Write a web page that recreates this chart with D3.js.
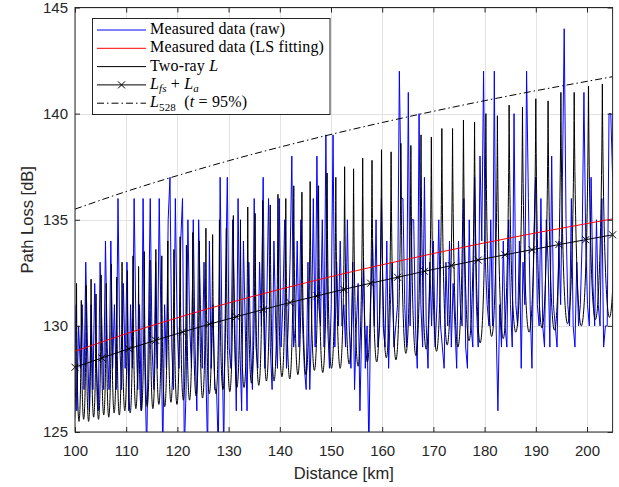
<!DOCTYPE html>
<html lang="en">
<head>
<meta charset="UTF-8">
<title>Path loss vs distance</title>
<script src="https://cdn.jsdelivr.net/npm/d3@7/dist/d3.min.js"></script>
<style>
    body { margin: 0; background: #fff; }
    .tick text { font-family: "Liberation Sans", Arial, sans-serif; font-size: 15px; fill: #262626; }
</style>
</head>
<body>
<script>
    // ---- data ----
    const xTicks = [100, 110, 120, 130, 140, 150, 160, 170, 180, 190, 200];
    const yTicks = [125, 130, 135, 140, 145];

    // measured samples (dB), one every rawStepKm from rawStartKm
    const rawStartKm = 100;
    const rawStepKm = 0.35;
    const rawLoss = [
        131,126,130,128,131,127,133,129,126,131,127,132,128,126,133,130,127,134,129,127,
        134,128,131,127,136,129,127,132,128,133,126,131,128,136,130,127,131,126,136,128,
        124,130,136,129,127,133,128,136,130,124,131,128,135,137,129,127,136,130,128,134,
        136,124,127,135,130,128,135,129,126,135,131,128,133,128,124,134,128,131,127,127,
        124,137,130,124,132,137,129,128,135,131,126,136,129,126,134,130,126,133,129,127,
        136,129,128,133,130,137,128,131,136,129,127,134,130,128,136,129,131,135,128,130,
        133,138,129,130,134,129,135,130,128,127,133,127,130,136,129,138,131,130,135,129,
        139,130,128,131,139,129,133,130,134,130,131,129,135,130,128,133,127,130,132,126,
        130,133,128,130,124,131,134,130,135,129,130,136,130,129,134,128,131,133,129,130,
        131,142,136,136,131,129,141,130,135,135,130,128,140,131,129,137,130,128,133,130,
        134,129,131,135,130,129,128,133,130,134,129,132,130,128,134,131,130,136,129,128,
        135,130,129,137,131,129,138,134,142,133,131,130,135,130,142,130,126,131,129,134,
        130,129,135,131,129,140,131,130,134,128,133,131,142,136,131,128,134,137,131,130,
        136,130,129,135,133,129,138,131,130,129,134,131,137,144,135,131,130,136,130,129,
        133,130,131,134,141,134,131,130,137,132,130,135,131,130,136,129,130,130,140,140,
        137
    ];

    // LS fit of the measurement
    const fitKm = [100, 110, 120, 130, 140, 150, 160, 170, 180, 190, 200, 205];
    const fitLoss = [128.80, 129.63, 130.38, 131.08, 131.72, 132.32, 132.88, 133.41, 133.91, 134.38, 134.82, 135.04];

    // two-ray model: fade peaks and the troughs between them
    const peakKm = [
        99.4, 100.3, 101.23, 102.18, 103.14, 104.11, 105.10, 106.10, 107.12, 108.15, 109.19,
        110.25, 111.33, 112.42, 113.53, 114.65, 115.79, 116.95, 118.13, 119.32, 120.53,
        121.76, 123.01, 124.28, 125.57, 126.88, 128.21, 129.56, 130.93, 132.32, 133.74,
        135.18, 136.64, 138.13, 139.64, 141.17, 142.73, 144.32, 145.93, 147.57, 149.24,
        150.94, 152.66, 154.41, 156.19, 158.01, 159.86, 161.74, 163.65, 165.60, 167.58,
        169.60, 171.65, 173.74, 175.87, 178.04, 180.25, 182.50, 184.79,
        187.4, 190.0, 192.4, 194.9, 197.5, 200.3, 203.0, 205.8
    ];
    const peakLoss = [
        131.8, 132.0, 131.2, 131.9, 132.2, 131.5, 132.4, 132.0, 132.9, 132.3, 133.0,
        132.6, 133.3, 132.8, 133.5, 133.1, 133.6, 133.3, 134.0, 133.6, 134.2,
        133.8, 134.4, 134.0, 134.6, 134.3, 135.0, 134.6, 135.2, 135.0, 135.6,
        135.3, 135.9, 135.7, 136.2, 136.0, 136.6, 136.3, 136.8, 136.6, 137.2,
        137.0, 137.5, 137.4, 137.9, 137.8, 138.3, 138.2, 138.6, 138.5, 139.0,
        138.9, 139.3, 139.3, 139.7, 139.6, 140.0, 139.9, 140.4,
        140.3, 140.7, 140.6, 141.0, 141.0, 141.3, 141.4, 141.7
    ];
    const troughLoss = [
        125.5, 125.5, 125.6, 125.5, 125.7, 125.6, 125.8, 125.7, 125.9, 125.8,
        126.0, 125.9, 126.1, 126.0, 126.2, 126.1, 126.3, 126.2, 126.4, 126.3,
        126.5, 126.5, 126.7, 126.6, 126.8, 126.8, 127.0, 126.9, 127.1, 127.1,
        127.3, 127.2, 127.4, 127.4, 127.6, 127.5, 127.7, 127.7, 127.9, 127.8,
        128.0, 128.0, 128.2, 128.1, 128.3, 128.3, 128.5, 128.4, 128.7, 128.6,
        128.9, 128.8, 129.1, 129.0, 129.3, 129.2, 129.5, 129.4, 129.7, 129.7,
        129.9, 129.8, 130.1, 130.0, 130.3, 130.4
    ];

    // free-space + atmospheric loss (with markers)
    const freeKm = [100, 105.25, 110.5, 115.75, 121, 126.25, 131.5, 136.75, 142, 147.25, 152.5,
        157.75, 163, 168.25, 173.5, 178.75, 184, 189.25, 194.5, 199.75, 205];
    const freeLoss = [128.05, 128.49, 128.92, 129.32, 129.71, 130.08, 130.43, 130.77, 131.10, 131.41, 131.72,
        132.01, 132.29, 132.57, 132.84, 133.10, 133.35, 133.59, 133.83, 134.06, 134.29];

    // L528 at t = 95%
    const l528Km = [100, 110, 120, 130, 140, 150, 160, 170, 180, 190, 200, 205];
    const l528Loss = [135.50, 136.33, 137.08, 137.78, 138.42, 139.02, 139.58, 140.11, 140.61, 141.08, 141.52, 141.74];

    // ---- drawing ----
    let width = 619, height = 487;
    let margin = {top: 7.5, right: 6.4, bottom: 55, left: 75};
    let iw = width - margin.left - margin.right;
    let ih = height - margin.top - margin.bottom;
    let axisColor = '#262626';

    let svg = d3.select('body').append('svg')
        .attr('width', width)
        .attr('height', height);

    let x = d3.scaleLinear().domain([100, 205]).range([margin.left, width - margin.right]);
    let y = d3.scaleLinear().domain([125, 145]).range([height - margin.bottom, margin.top]);

    svg.append('defs').append('clipPath').attr('id', 'plot')
        .append('rect')
        .attr('x', margin.left).attr('y', margin.top)
        .attr('width', iw).attr('height', ih);

    // grid
    let grid = svg.append('g').attr('stroke', '#e3e3e3').attr('stroke-width', 1);
    grid.selectAll('.gx').data(xTicks).join('line')
        .attr('x1', d => Math.round(x(d)) + 0.5).attr('x2', d => Math.round(x(d)) + 0.5)
        .attr('y1', margin.top).attr('y2', height - margin.bottom);
    grid.selectAll('.gy').data(yTicks).join('line')
        .attr('y1', d => Math.round(y(d)) + 0.5).attr('y2', d => Math.round(y(d)) + 0.5)
        .attr('x1', margin.left).attr('x2', width - margin.right);

    let plot = svg.append('g').attr('clip-path', 'url(#plot)');

    // measured raw
    let rawKm = rawLoss.map((v, i) => rawStartKm + i * rawStepKm);
    let rawLine = d3.line().x((d, i) => x(rawKm[i])).y(d => y(d));
    plot.append('path')
        .attr('d', rawLine(rawLoss))
        .attr('fill', 'none').attr('stroke', '#0000ff').attr('stroke-width', 1);

    // two-ray: sharp fade peaks, rounded troughs
    let tr = d3.path();
    tr.moveTo(x(peakKm[0]), y(peakLoss[0]));
    for (let i = 0; i < peakKm.length - 1; i++) {
        let x0 = x(peakKm[i]), y0 = y(peakLoss[i]);
        let x3 = x(peakKm[i + 1]), y3 = y(peakLoss[i + 1]);
        let yc = (8 * y(troughLoss[i]) - y0 - y3) / 6;
        let dx = x3 - x0;
        tr.bezierCurveTo(x0 + 0.12 * dx, yc, x3 - 0.12 * dx, yc, x3, y3);
    }
    plot.append('path')
        .attr('d', tr.toString())
        .attr('fill', 'none').attr('stroke', '#000').attr('stroke-width', 1);

    let line = d3.line().curve(d3.curveMonotoneX);

    // LS fit
    plot.append('path')
        .attr('d', line(fitKm.map((k, i) => [x(k), y(fitLoss[i])])))
        .attr('fill', 'none').attr('stroke', '#ff0000').attr('stroke-width', 1);

    // Lfs + La
    plot.append('path')
        .attr('d', line(freeKm.map((k, i) => [x(k), y(freeLoss[i])])))
        .attr('fill', 'none').attr('stroke', '#000').attr('stroke-width', 1);
    let cross = 'M-3.5,-3.5L3.5,3.5M-3.5,3.5L3.5,-3.5';
    svg.append('g').selectAll('path').data(freeKm).join('path')
        .attr('d', cross)
        .attr('transform', (d, i) => `translate(${x(d)},${y(freeLoss[i])})`)
        .attr('fill', 'none').attr('stroke', '#000').attr('stroke-width', 1);

    // L528
    plot.append('path')
        .attr('d', line(l528Km.map((k, i) => [x(k), y(l528Loss[i])])))
        .attr('fill', 'none').attr('stroke', '#000').attr('stroke-width', 1)
        .attr('stroke-dasharray', '7,3,1.5,3');

    // axes (ticks point inwards, on all four sides)
    function styleAxis(g) {
        g.select('.domain').remove();
        g.selectAll('.tick line').attr('stroke', axisColor);
    }
    svg.append('g')
        .attr('transform', `translate(0,${height - margin.bottom})`)
        .call(d3.axisBottom(x).tickValues(xTicks).tickSizeInner(-5).tickSizeOuter(0).tickPadding(13))
        .call(styleAxis);
    svg.append('g')
        .attr('transform', `translate(0,${margin.top})`)
        .call(d3.axisTop(x).tickValues(xTicks).tickSizeInner(-5).tickSizeOuter(0).tickFormat(''))
        .call(styleAxis);
    svg.append('g')
        .attr('transform', `translate(${margin.left},0)`)
        .call(d3.axisLeft(y).tickValues(yTicks).tickSizeInner(-5).tickSizeOuter(0).tickPadding(7))
        .call(styleAxis);
    svg.append('g')
        .attr('transform', `translate(${width - margin.right},0)`)
        .call(d3.axisRight(y).tickValues(yTicks).tickSizeInner(-5).tickSizeOuter(0).tickFormat(''))
        .call(styleAxis);

    svg.append('rect')
        .attr('x', margin.left).attr('y', margin.top)
        .attr('width', iw).attr('height', ih)
        .attr('fill', 'none').attr('stroke', axisColor).attr('stroke-width', 1);

    svg.append('text')
        .attr('x', margin.left + iw / 2).attr('y', 479)
        .attr('text-anchor', 'middle')
        .style('font-family', '"Liberation Sans", Arial, sans-serif').style('font-size', '16.5px')
        .attr('fill', axisColor)
        .text('Distance [km]');
    svg.append('text')
        .attr('transform', `translate(33,${margin.top + ih / 2}) rotate(-90)`)
        .attr('text-anchor', 'middle')
        .style('font-family', '"Liberation Sans", Arial, sans-serif').style('font-size', '16.5px')
        .attr('fill', axisColor)
        .text('Path Loss [dB]');

    // legend
    let lg = svg.append('g');
    lg.append('rect')
        .attr('x', 92.5).attr('y', 18.5).attr('width', 237.5).attr('height', 96)
        .attr('fill', '#fff').attr('stroke', axisColor).attr('stroke-width', 1);

    let legendItems = [
        {color: '#0000ff', dash: null, marker: false,
            parts: [{t: 'Measured data (raw)'}]},
        {color: '#ff0000', dash: null, marker: false,
            parts: [{t: 'Measured data (LS fitting)'}]},
        {color: '#000', dash: null, marker: false,
            parts: [{t: 'Two-ray '}, {t: 'L', i: true}]},
        {color: '#000', dash: null, marker: true,
            parts: [{t: 'L', i: true}, {t: 'fs', i: true, sub: true}, {t: ' + '}, {t: 'L', i: true}, {t: 'a', i: true, sub: true}]},
        {color: '#000', dash: '7,3,1.5,3', marker: false,
            parts: [{t: 'L', i: true}, {t: '528', sub: true}, {t: '  ('}, {t: 't', i: true}, {t: ' = 95%)'}]}
    ];

    legendItems.forEach((item, k) => {
        let cy = 30 + k * 18.3;
        lg.append('line')
            .attr('x1', 97).attr('x2', 146).attr('y1', cy).attr('y2', cy)
            .attr('stroke', item.color).attr('stroke-width', 1)
            .attr('stroke-dasharray', item.dash);
        if (item.marker) {
            lg.append('path').attr('d', cross)
                .attr('transform', `translate(121.5,${cy})`)
                .attr('fill', 'none').attr('stroke', '#000').attr('stroke-width', 1);
        }
        let txt = lg.append('text')
            .attr('x', 150).attr('y', cy + 4)
            .attr('xml:space', 'preserve')
            .style('white-space', 'pre')
            .style('font-family', '"Liberation Serif", "Times New Roman", serif')
            .style('font-size', '16px')
            .style('letter-spacing', '0.15px')
            .attr('fill', '#000');
        let down = false;
        item.parts.forEach(p => {
            let ts = txt.append('tspan').text(p.t);
            if (p.i) ts.style('font-style', 'italic');
            if (p.sub && !down) { ts.attr('dy', 3.5).style('font-size', '11px'); down = true; }
            else if (p.sub) { ts.style('font-size', '11px'); }
            else if (down) { ts.attr('dy', -3.5); down = false; }
        });
    });
</script>
</body>
</html>
